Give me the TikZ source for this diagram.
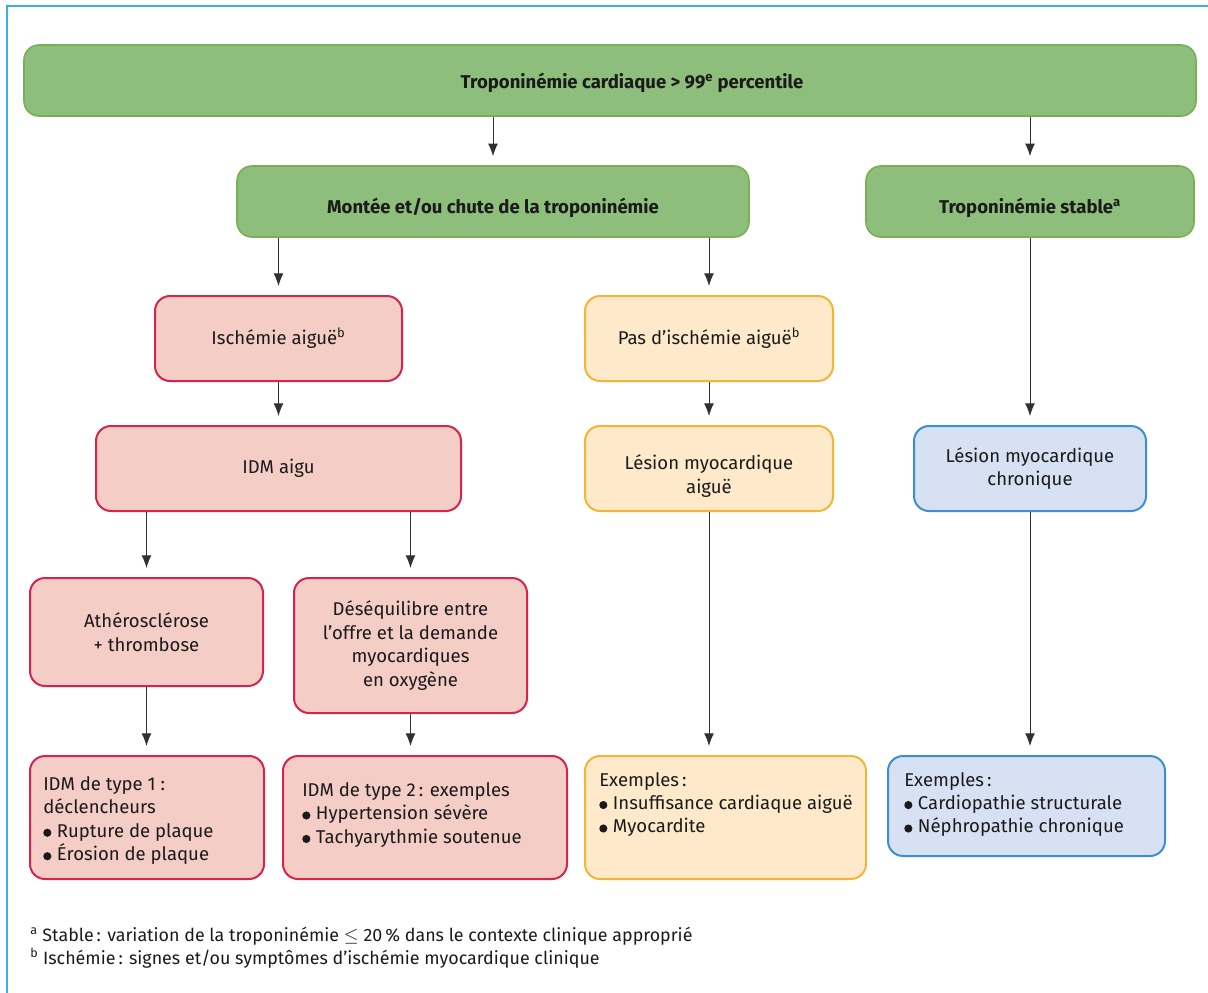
\documentclass[tikz,border=0pt]{standalone}
\usepackage{fontspec}
\setmainfont{Fira Sans}
\usetikzlibrary{arrows.meta}
\newdimen\pxu \pxu=0.75pt
\definecolor{gfill}{HTML}{8DBE7B}
\definecolor{gline}{HTML}{7AAF55}
\definecolor{pfill}{HTML}{F4CDC7}
\definecolor{pline}{HTML}{D8234C}
\definecolor{ofill}{HTML}{FEEACB}
\definecolor{oline}{HTML}{F6B436}
\definecolor{bfill}{HTML}{D6E2F4}
\definecolor{bline}{HTML}{3C8FD1}
\definecolor{frame}{HTML}{3BAFE6}
\definecolor{ink}{HTML}{1A1A1A}
\newcommand{\bul}{\tikz[baseline=0pt]\fill[ink] (0.22em,0.24em) circle[radius=0.22em];\hspace{0.3em}}
\begin{document}
\begin{tikzpicture}[x=0.75pt,y=-0.75pt,
  every node/.style={text=ink},
  base/.style={font=\fontsize{13.9}{17.6}\selectfont},
  box/.style={base, rectangle, rounded corners=11.25pt, line width=1.5pt, inner sep=0pt, align=center},
  gbox/.style={box, fill=gfill, draw=gline, line width=1.2pt, font=\fontsize{13.9}{17.6}\selectfont\bfseries, text depth=0pt},
  pbox/.style={box, fill=pfill, draw=pline},
  obox/.style={box, fill=ofill, draw=oline},
  bbox/.style={box, fill=bfill, draw=bline},
  txt/.style={base, inner sep=0pt, align=left, anchor=west},
  arr/.style={draw=ink!90, line width=0.75pt, -{Latex[length=9.5pt,width=7.5pt]}, shorten >=6.75pt}
]
\useasboundingbox (0,0) rectangle (1208,993);
\draw[frame, line width=1.1pt] (1208,6) -- (7,6) -- (7,993);

% row 1
\node[gbox, text height=12.5pt, minimum width=1172\pxu, minimum height=71\pxu] (top) at (610,80.5)
  {\hspace*{33pt}Troponinémie cardiaque > 99\textsuperscript{e} percentile};
% row 2
\node[gbox, text height=18pt, minimum width=512\pxu, minimum height=71\pxu] (mont) at (493,201.5)
  {Montée et/ou chute de la troponinémie};
\node[gbox, text height=18pt, minimum width=328\pxu, minimum height=71\pxu] (stab) at (1030,201.5)
  {Troponinémie stable\textsuperscript{a}};
% row 3
\node[pbox, minimum width=247\pxu, minimum height=85\pxu] (isch) at (278.5,338.5)
  {Ischémie aiguë\textsuperscript{b}};
\node[obox, minimum width=248\pxu, minimum height=85\pxu] (pas) at (709,338.5)
  {Pas d’ischémie aiguë\textsuperscript{b}};
% row 4
\node[pbox, minimum width=365\pxu, minimum height=85\pxu] (idm) at (278.5,468.5)
  {IDM aigu};
\node[obox, minimum width=248\pxu, minimum height=85\pxu] (lesa) at (709,468.5) {};
\node[base, inner sep=0pt, align=center] (lesat) at ([yshift=-5.5pt]lesa.center)
  {Lésion myocardique\\aiguë};
\node[bbox, minimum width=232\pxu, minimum height=85\pxu] (lesc) at (1030,468.5)
  {Lésion myocardique\\chronique};
% row 5
\node[pbox, minimum width=233\pxu, minimum height=108\pxu] (ath) at (146.5,632)
  {Athérosclérose\\+ thrombose};
\node[pbox, minimum width=233\pxu, minimum height=135\pxu] (des) at (410.5,645.5)
  {Déséquilibre entre\\l’offre et la demande\\myocardiques\\en oxygène};
% row 6
\node[pbox, minimum width=234\pxu, minimum height=123\pxu] (t1) at (147,817.5) {};
\node[pbox, minimum width=284\pxu, minimum height=123\pxu] (t2) at (425,817.5) {};
\node[obox, minimum width=281\pxu, minimum height=123\pxu] (ex3) at (725.5,817.5) {};
\node[bbox, minimum width=277\pxu, minimum height=100\pxu] (ex4) at (1026.5,806) {};

\node[txt] (t1t) at ([xshift=10.5pt, yshift=-2.25pt]t1.west)
  {IDM de type 1 :\\déclencheurs\\\bul Rupture de plaque\\\bul Érosion de plaque};
\node[txt] (t2t) at ([xshift=15pt, yshift=1.9pt]t2.west)
  {IDM de type 2\,: exemples\\\bul Hypertension sévère\\\bul Tachyarythmie soutenue};
\node[txt] (ex3t) at ([xshift=11.25pt, yshift=9.75pt]ex3.west)
  {Exemples\,:\\\bul Insuffisance cardiaque aiguë\\\bul Myocardite};
\node[txt] (ex4t) at ([xshift=12.75pt, yshift=1.1pt]ex4.west)
  {Exemples\,:\\\bul Cardiopathie structurale\\\bul Néphropathie chronique};

% footnotes
\node[txt, font=\fontsize{13.4}{17.4}\selectfont] (foot) at (30,947.5)
  {\textsuperscript{a} Stable\,: variation de la troponinémie $\leq$ 20\,\% dans le contexte clinique approprié\\
   \textsuperscript{b} Ischémie\,: signes et/ou symptômes d’ischémie myocardique clinique};

% connectors
\draw[arr] (top.south -| mont.north) -- (mont.north);
\draw[arr] (top.south -| stab.north) -- (stab.north);
\draw[arr] (mont.south -| isch.north) -- (isch.north);
\draw[arr] (mont.south -| pas.north) -- (pas.north);
\draw[arr] (isch.south) -- (idm.north);
\draw[arr] (pas.south) -- (lesa.north);
\draw[arr] (stab.south) -- (lesc.north);
\draw[arr] (idm.south -| ath.north) -- (ath.north);
\draw[arr] (idm.south -| des.north) -- (des.north);
\draw[arr] (ath.south) -- (ath.south |- t1.north);
\draw[arr] (des.south) -- (des.south |- t2.north);
\draw[arr] (lesa.south) -- (lesa.south |- ex3.north);
\draw[arr] (lesc.south) -- (lesc.south |- ex4.north);
\end{tikzpicture}
\end{document}
